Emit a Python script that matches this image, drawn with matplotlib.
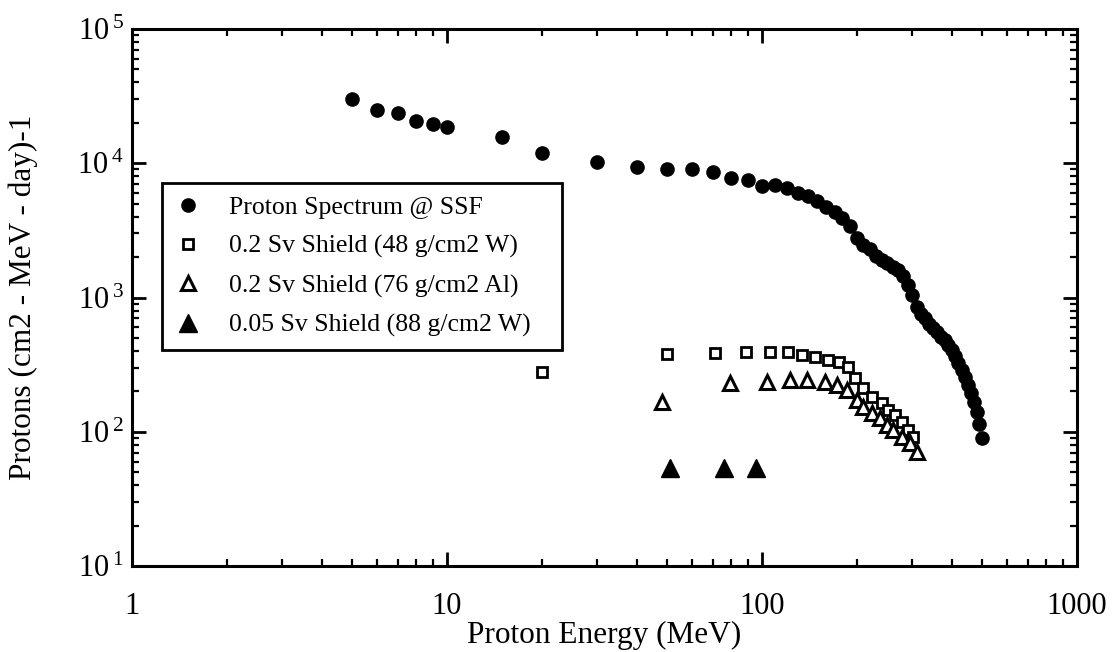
import math
import matplotlib
matplotlib.use("Agg")
import matplotlib.pyplot as plt
from matplotlib.ticker import LogLocator, FixedLocator, FuncFormatter, NullFormatter

# ---- data ----
energy_ssf = [5, 6, 7, 8, 9, 10, 15, 20, 30, 40, 50, 60, 70, 80, 90, 100, 110, 120, 130,
              140, 150, 160, 170, 180, 190, 200, 210, 220, 230, 240, 250, 260, 270, 280,
              290, 300, 310, 320, 330, 340, 350, 360, 370, 380, 390, 400, 410, 420, 430,
              440, 450, 460, 470, 480, 490, 500]
flux_ssf = [29900, 24900, 23800, 20600, 19600, 18700, 15600, 11900, 10300, 9400, 9000, 9000,
            8600, 7800, 7500, 6800, 6850, 6500, 6000,
            5700, 5230, 4720, 4330, 3910, 3410, 2770, 2460, 2300, 2040, 1900, 1810, 1690,
            1600, 1450, 1240, 1040, 850, 753, 703, 635, 593, 553, 508, 482, 443, 406, 367,
            325, 288, 256, 223, 194, 167, 140, 114, 90]

energy_w48 = [20, 50, 71, 89, 106, 121, 134, 147, 162, 175, 188, 197, 210, 223, 240, 252,
              264, 278, 291, 301]
flux_w48 = [280, 382, 384, 390, 394, 394, 373, 363, 342, 332, 305, 250, 211, 183, 163, 145,
            133, 119, 103, 91]

energy_al76 = [48, 79, 104, 123, 139, 158, 173, 186, 200, 210, 223, 237, 249, 261, 278, 295, 310]
flux_al76 = [168, 230, 236, 243, 243, 236, 223, 205, 172, 154, 137, 126, 112, 103, 92, 82, 71]

energy_w88 = [51, 76, 96]
flux_w88 = [54, 54, 54]

labels = ["Proton Spectrum @ SSF", "0.2 Sv Shield (48 g/cm2 W)",
          "0.2 Sv Shield (76 g/cm2 Al)", "0.05 Sv Shield (88 g/cm2 W)"]
x_ticks = [1, 10, 100, 1000]
x_ticklabels = ["1", "10", "100", "1000"]
y_ticks = [1e1, 1e2, 1e3, 1e4, 1e5]

# ---- style ----
plt.rcParams['font.family'] = ['Liberation Serif', 'DejaVu Serif']
plt.rcParams['mathtext.fontset'] = 'custom'
plt.rcParams['mathtext.rm'] = 'Liberation Serif'

fig = plt.figure(figsize=(11.12, 6.52), dpi=100)
ax = fig.add_axes([132 / 1112, 1 - 566 / 652, (1077 - 132) / 1112, (566 - 29) / 652])

ax.plot(energy_ssf, flux_ssf, linestyle='none', marker='o', markersize=9.5,
        color='black', label=labels[0])
ax.plot(energy_w48, flux_w48, linestyle='none', marker='s', markersize=6.5,
        markerfacecolor='white', markeredgecolor='black', markeredgewidth=2.0, label=labels[1])
ax.plot(energy_al76, flux_al76, linestyle='none', marker='^', markersize=10.5,
        markerfacecolor='white', markeredgecolor='black', markeredgewidth=2.2, label=labels[2])
ax.plot(energy_w88, flux_w88, linestyle='none', marker='^', markersize=13.5,
        color='black', label=labels[3])

ax.set_xscale('log')
ax.set_yscale('log')
ax.set_xlim(1, 1000)
ax.set_ylim(10, 1e5)

ax.xaxis.set_major_locator(FixedLocator(x_ticks))
ax.set_xticklabels(x_ticklabels)
ax.xaxis.set_minor_locator(LogLocator(base=10, subs=range(2, 10)))
ax.xaxis.set_minor_formatter(NullFormatter())
ax.yaxis.set_major_locator(FixedLocator(y_ticks))
ax.yaxis.set_major_formatter(FuncFormatter(
    lambda v, p: r'$\mathregular{10^{\,%d}}$' % round(math.log10(v))))
ax.yaxis.set_minor_locator(LogLocator(base=10, subs=range(2, 10)))
ax.yaxis.set_minor_formatter(NullFormatter())

ax.tick_params(which='both', direction='in', top=True, right=True, color='black')
ax.tick_params(which='major', length=10, width=2, labelsize=22)
ax.tick_params(which='minor', length=5, width=1.6)
ax.tick_params(axis='x', which='major', pad=19)
ax.tick_params(axis='y', which='major', pad=6)
for s in ax.spines.values():
    s.set_linewidth(2.2)

ax.set_xlabel("Proton Energy (MeV)", fontsize=22.5, labelpad=0)
ax.set_ylabel("Protons (cm2 - MeV - day)-1", fontsize=22.5)
ax.yaxis.set_label_coords(-0.099, 0.5)

leg = ax.legend(loc='upper left', bbox_to_anchor=(0.0317, 0.713, 0.4233, 0.0),
                mode='expand', fontsize=18.5,
                frameon=True, fancybox=False, edgecolor='black', framealpha=1,
                handlelength=1.0, handletextpad=1.1, labelspacing=0.62,
                borderpad=0.5, borderaxespad=0, numpoints=1)
leg.get_frame().set_linewidth(2.0)

fig.savefig("out.png", dpi=100)
